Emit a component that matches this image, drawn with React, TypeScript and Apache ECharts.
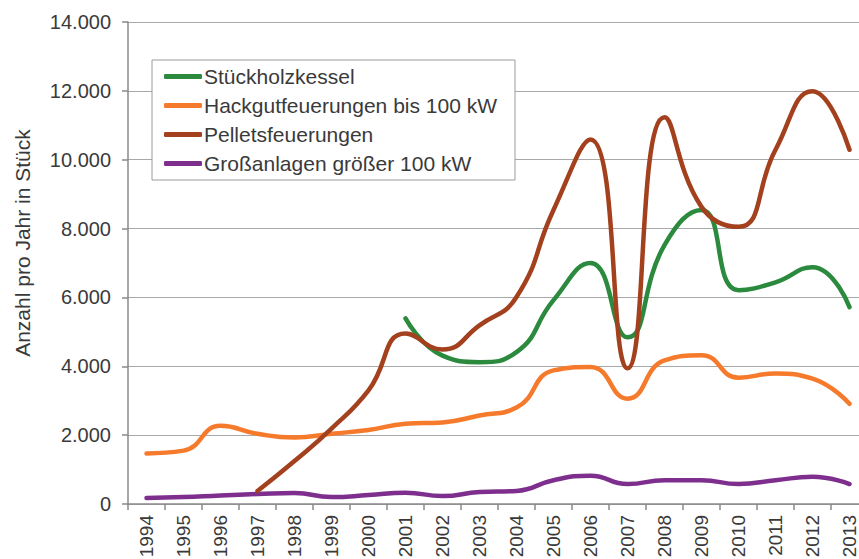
import React, { useEffect, useRef } from "react";
import * as echarts from "echarts";

const years = ["1994","1995","1996","1997","1998","1999","2000","2001","2002","2003","2004","2005","2006","2007","2008","2009","2010","2011","2012","2013"];

const stueckholz = [null,null,null,null,null,null,null,5390,4310,4120,4410,5920,7000,4840,7520,8540,6210,6440,6880,5720];
const hackgut = [1470,1550,2270,2040,1930,2040,2150,2330,2370,2570,2800,3880,3980,3060,4170,4320,3670,3790,3640,2910];
const pellets = [null,null,null,380,1250,2190,3300,4950,4490,5190,6010,8540,10590,3940,11230,8630,8050,10290,11990,10290];
const grossanlagen = [175,200,250,290,320,200,260,330,230,350,380,690,820,580,690,690,580,690,790,580];

const yTicks = [0, 2000, 4000, 6000, 8000, 10000, 12000, 14000];

const seriesNames = ["Stückholzkessel", "Hackgutfeuerungen bis 100 kW", "Pelletsfeuerungen", "Großanlagen größer 100 kW"];
const seriesColors = ["#2b8a3e", "#f67a2c", "#a3401d", "#7e2f8e"];
const seriesData = [stueckholz, hackgut, pellets, grossanlagen];

function fmt(v: number): string {
  if (v === 0) return "0";
  const th = Math.floor(v / 1000);
  const rest = String(v % 1000).padStart(3, "0");
  return th + "." + rest;
}

export default function App() {
  const ref = useRef<HTMLDivElement>(null);
  useEffect(() => {
    if (!ref.current) return;
    const chart = echarts.init(ref.current, null, { renderer: "svg" });
    const font = "'Liberation Sans', Arial, sans-serif";
    chart.setOption({
      animation: false,
      backgroundColor: "#ffffff",
      textStyle: { fontFamily: font },
      grid: { left: 128, top: 22, width: 740, height: 482, containLabel: false, outerBoundsMode: "none" },
      legend: {
        orient: "vertical",
        left: 152,
        top: 60,
        backgroundColor: "#ffffff",
        borderColor: "#9a9a9a",
        borderWidth: 1,
        padding: [6, 18, 6, 12],
        itemGap: 8,
        itemWidth: 38,
        itemHeight: 5,
        icon: "roundRect",
        textStyle: { fontSize: 21, color: "#3a3a3a", fontFamily: font, padding: [0, 0, 0, -3] },
        data: seriesNames,
      },
      graphic: [
        {
          type: "text",
          x: 22,
          y: 243,
          rotation: Math.PI / 2,
          style: {
            text: "Anzahl pro Jahr in Stück",
            fontSize: 21,
            fontFamily: font,
            fill: "#3a3a3a",
            textAlign: "center",
            textVerticalAlign: "middle",
          },
        },
      ],
      xAxis: {
        type: "category",
        data: years,
        boundaryGap: true,
        axisLine: { lineStyle: { color: "#8a8a8a", width: 1.5 } },
        axisTick: { show: true, length: 6, alignWithLabel: false, lineStyle: { color: "#8a8a8a", width: 1.5 } },
        axisLabel: { rotate: 90, fontSize: 19, color: "#3a3a3a", margin: 11, fontFamily: font, interval: 0, hideOverlap: false },
        splitLine: { show: false },
      },
      yAxis: {
        type: "value",
        min: 0,
        max: 14000,
        interval: 2000,
        axisLine: { show: true, lineStyle: { color: "#8a8a8a", width: 1.5 } },
        axisTick: { show: true, length: 6, inside: false, lineStyle: { color: "#8a8a8a", width: 1.5 } },
        axisLabel: {
          fontSize: 20,
          color: "#3a3a3a",
          margin: 17,
          fontFamily: font,
          formatter: (v: number) => (yTicks.includes(v) ? fmt(v) : ""),
        },
        splitLine: { show: true, lineStyle: { color: "#a8a8a8", width: 1.2 } },
      },
      series: seriesNames.map((name, i) => ({
        name,
        type: "line",
        data: seriesData[i],
        smooth: 0.5,
        showSymbol: false,
        symbol: "none",
        connectNulls: false,
        lineStyle: { color: seriesColors[i], width: 4.5, cap: "round", join: "round" },
        itemStyle: { color: seriesColors[i] },
        z: 3 + (i === 2 ? 1 : 0),
      })),
    });
    return () => chart.dispose();
  }, []);
  return <div ref={ref} style={{ position: "fixed", left: 0, top: 0, width: 859, height: 559 }} />;
}
